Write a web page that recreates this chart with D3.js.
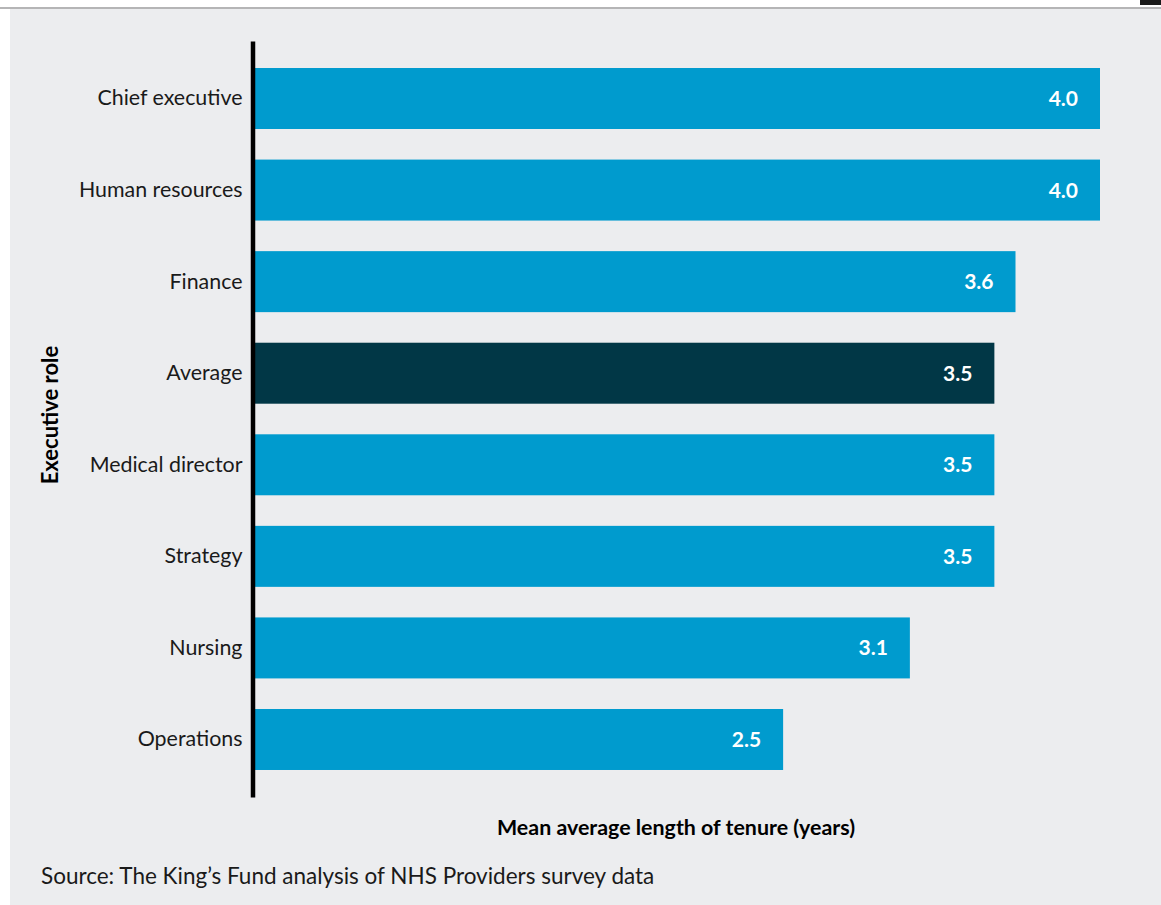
<!DOCTYPE html>
<html>
<head>
<meta charset="utf-8">
<script src="https://cdn.jsdelivr.net/npm/d3@7"></script>
<style>
  html, body { margin: 0; padding: 0; background: #ffffff; }
  svg { display: block; font-family: Lato, "Open Sans", sans-serif; }
</style>
</head>
<body>
<svg id="chart" width="1161" height="905"></svg>
<script>
// Mean length of tenure by executive role (years)
const roles = ["Chief executive", "Human resources", "Finance", "Average",
               "Medical director", "Strategy", "Nursing", "Operations"];
const tenure = [4.0, 4.0, 3.6, 3.5, 3.5, 3.5, 3.1, 2.5];
const highlightRole = "Average";

const xTitle = "Mean average length of tenure (years)";
const yTitle = "Executive role";
const source = "Source: The King\u2019s Fund analysis of NHS Providers survey data";

const svg = d3.select("#chart");
const W = 1161, H = 905;

// page header rule and grey panel
svg.append("rect").attr("x", 10).attr("y", 9).attr("width", W - 10).attr("height", H - 9)
  .attr("fill", "#ecedef");
svg.append("line").attr("x1", 0).attr("x2", W).attr("y1", 8).attr("y2", 8)
  .attr("stroke", "#9c9c9e").attr("stroke-width", 1.5);
svg.append("rect").attr("x", 1140).attr("y", 0).attr("width", 21).attr("height", 5)
  .attr("fill", "#1a1a1a");

const x = d3.scaleLinear().domain([0, 4]).range([255, 1100]);
const y = d3.scaleBand().domain(roles).range([41, 797])
  .paddingInner(0.334).paddingOuter(0.295);

const rows = roles.map((r, i) => ({ role: r, value: tenure[i] }));

// bars
svg.append("g").selectAll("rect")
  .data(rows)
  .join("rect")
  .attr("x", x(0))
  .attr("y", d => y(d.role))
  .attr("width", d => x(d.value) - x(0))
  .attr("height", y.bandwidth())
  .attr("fill", d => d.role === highlightRole ? "#013746" : "#009bce");

// value labels inside bar ends
svg.append("g").selectAll("text")
  .data(rows)
  .join("text")
  .attr("x", d => x(d.value) - 22)
  .attr("y", d => y(d.role) + y.bandwidth() / 2)
  .attr("dy", "0.36em")
  .attr("text-anchor", "end")
  .attr("fill", "#ffffff")
  .attr("font-weight", 700)
  .attr("font-size", 21)
  .text(d => d3.format(".1f")(d.value));

// category axis
const yAxis = d3.axisLeft(y).tickSize(0).tickPadding(10);
const gy = svg.append("g").attr("transform", `translate(${252.5},0)`).call(yAxis);
gy.select(".domain").attr("stroke", "#000").attr("stroke-width", 4.5);
gy.selectAll(".tick text")
  .attr("font-family", "Lato, sans-serif")
  .attr("font-size", 21.4)
  .attr("fill", "#1a1a1a");

// axis titles
svg.append("text")
  .attr("transform", "translate(58,415) rotate(-90)")
  .attr("text-anchor", "middle")
  .attr("font-weight", 700)
  .attr("font-size", 22)
  .attr("fill", "#000")
  .text(yTitle);

svg.append("text")
  .attr("x", 676).attr("y", 835)
  .attr("text-anchor", "middle")
  .attr("font-weight", 700)
  .attr("font-size", 21.4)
  .attr("fill", "#000")
  .text(xTitle);

svg.append("text")
  .attr("x", 41).attr("y", 884)
  .attr("font-size", 22.5)
  .attr("fill", "#1a1a1a")
  .text(source);
</script>
</body>
</html>
